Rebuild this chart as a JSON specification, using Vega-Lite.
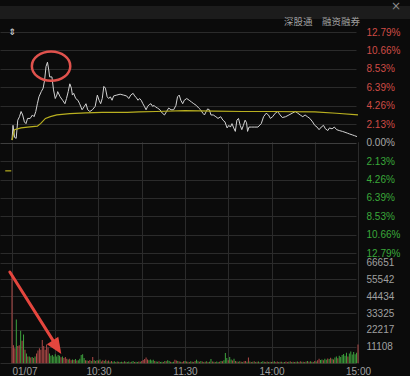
{
"$schema": "https://vega.github.io/schema/vega-lite/v6.json",
"background": "#0b0b0b",
"padding": 0,
"spacing": 13,
"bounds": "flush",
"config": {"view": {"stroke": null}, "font": "Liberation Sans"},
"vconcat": [
{
"width": 410, "height": 13,
"view": {"fill": "#1c1c1c", "stroke": null},
"data": {"values": [{"s": "×"}]},
"mark": {"type": "text", "align": "center", "baseline": "middle", "dx": -14, "fontSize": 12, "color": "#8a8a8a", "font": "DejaVu Sans"},
"encoding": {"text": {"field": "s"}, "x": {"value": "width"}, "y": {"value": {"expr": "height/2"}}}
},
{
"width": 363, "height": 331,
"title": {"text": "深股通　融资融券", "anchor": "end", "frame": "group", "orient": "top", "font": "Noto Sans CJK SC", "fontSize": 9.5, "fontWeight": "normal", "color": "#a0a0a0", "offset": 1, "dx": -3},
"resolve": {"scale": {"y": "independent"}},
"layer": [
{"data": {"values": [
{"t":0,"p":0.3},{"t":0.7,"p":2.0},{"t":1.8,"p":0.6},{"t":2.9,"p":0.5},{"t":4.0,"p":2.6},{"t":5.2,"p":3.0},{"t":6.3,"p":3.6},{"t":7.4,"p":3.2},{"t":8.6,"p":2.4},{"t":9.7,"p":2.2},
{"t":10.8,"p":2.8},{"t":12.6,"p":2.8},{"t":14.2,"p":3.2},{"t":15.3,"p":3.0},{"t":16.5,"p":3.6},{"t":17.6,"p":4.5},{"t":18.7,"p":5.3},{"t":20.3,"p":5.9},{"t":21.6,"p":6.3},{"t":22.6,"p":7.2},
{"t":23.6,"p":8.8},{"t":24.6,"p":9.3},{"t":25.5,"p":8.4},{"t":26.1,"p":7.6},{"t":27.7,"p":7.6},{"t":28.8,"p":6.1},{"t":30.0,"p":5.1},{"t":31.1,"p":5.5},{"t":31.7,"p":5.9},{"t":33.4,"p":5.3},
{"t":35.1,"p":4.9},{"t":36.7,"p":4.5},{"t":37.8,"p":5.1},{"t":39.0,"p":5.9},{"t":40.1,"p":6.8},{"t":41.2,"p":6.3},{"t":41.9,"p":5.5},{"t":42.8,"p":5.7},{"t":44.2,"p":5.1},{"t":45.7,"p":4.9},
{"t":46.9,"p":4.5},{"t":48.6,"p":3.8},{"t":50.2,"p":4.2},{"t":51.3,"p":4.5},{"t":52.5,"p":3.8},{"t":54.0,"p":3.6},{"t":55.8,"p":3.8},{"t":57.7,"p":4.2},{"t":59.2,"p":5.5},{"t":60.4,"p":4.9},
{"t":61.5,"p":4.5},{"t":62.6,"p":5.1},{"t":63.7,"p":6.5},{"t":64.8,"p":6.3},{"t":66.0,"p":5.3},{"t":67.1,"p":5.1},{"t":68.2,"p":5.3},{"t":69.4,"p":4.9},{"t":70.5,"p":5.4},{"t":72.7,"p":5.5},
{"t":75.0,"p":5.6},{"t":77.3,"p":5.5},{"t":79.5,"p":5.4},{"t":81.0,"p":5.1},{"t":82.4,"p":5.5},{"t":84.0,"p":5.7},{"t":85.1,"p":5.4},{"t":86.2,"p":5.2},{"t":87.4,"p":4.9},{"t":88.5,"p":5.1},
{"t":89.6,"p":4.9},{"t":90.8,"p":4.5},{"t":91.8,"p":4.2},{"t":93.0,"p":3.8},{"t":94.1,"p":4.2},{"t":95.2,"p":4.4},{"t":96.4,"p":4.5},{"t":97.5,"p":4.2},{"t":98.6,"p":4.3},{"t":99.7,"p":4.1},
{"t":100.9,"p":4.0},{"t":102.6,"p":3.8},{"t":104.3,"p":3.4},{"t":105.8,"p":3.2},{"t":107.2,"p":3.6},{"t":108.7,"p":4.0},{"t":110.3,"p":3.8},{"t":112.1,"p":3.8},{"t":113.7,"p":4.3},{"t":114.8,"p":5.3},
{"t":116.0,"p":5.5},{"t":117.1,"p":4.9},{"t":118.4,"p":4.5},{"t":119.5,"p":4.9},{"t":121.2,"p":5.1},{"t":122.9,"p":4.9},{"t":124.5,"p":4.7},{"t":126.1,"p":4.5},{"t":127.9,"p":4.3},{"t":129.5,"p":4.0},
{"t":130.8,"p":3.8},{"t":132.4,"p":3.4},{"t":133.5,"p":3.2},{"t":134.7,"p":3.6},{"t":135.7,"p":3.9},{"t":136.9,"p":3.8},{"t":138.0,"p":3.2},{"t":139.6,"p":3.2},{"t":141.4,"p":3.0},{"t":142.9,"p":2.8},
{"t":144.8,"p":3.0},{"t":146.3,"p":2.6},{"t":147.7,"p":2.4},{"t":149.2,"p":1.7},{"t":150.4,"p":2.0},{"t":151.5,"p":1.8},{"t":152.6,"p":2.2},{"t":153.8,"p":1.7},{"t":154.9,"p":1.3},{"t":156.0,"p":2.6},
{"t":157.1,"p":2.8},{"t":158.3,"p":2.0},{"t":159.4,"p":1.5},{"t":160.5,"p":2.0},{"t":161.7,"p":2.6},{"t":162.7,"p":2.3},{"t":163.4,"p":1.3},{"t":164.4,"p":1.8},{"t":166.1,"p":1.8},{"t":168.4,"p":1.8},
{"t":170.6,"p":1.8},{"t":172.9,"p":2.2},{"t":174.5,"p":3.0},{"t":176.3,"p":3.4},{"t":177.9,"p":3.2},{"t":179.2,"p":2.8},{"t":180.8,"p":3.0},{"t":182.6,"p":3.4},{"t":184.2,"p":3.6},{"t":186.0,"p":3.2},
{"t":187.5,"p":2.9},{"t":189.8,"p":3.0},{"t":192.1,"p":3.2},{"t":194.3,"p":3.4},{"t":196.5,"p":3.6},{"t":198.3,"p":3.4},{"t":199.9,"p":3.2},{"t":201.7,"p":3.0},{"t":203.3,"p":3.2},{"t":204.9,"p":3.0},
{"t":206.6,"p":2.8},{"t":208.5,"p":2.4},{"t":210.0,"p":2.0},{"t":211.6,"p":1.8},{"t":213.0,"p":1.5},{"t":214.5,"p":1.8},{"t":216.1,"p":2.0},{"t":217.4,"p":1.6},{"t":219.1,"p":1.4},{"t":220.2,"p":1.7},
{"t":222.0,"p":1.6},{"t":223.6,"p":1.8},{"t":225.2,"p":1.5},{"t":227.0,"p":1.4},{"t":229.2,"p":1.3},{"t":231.0,"p":1.2},{"t":232.6,"p":1.1},{"t":234.2,"p":1.0},{"t":236.0,"p":0.9},{"t":237.7,"p":0.8},
{"t":239.3,"p":0.7}
]},
"mark": {"type": "line", "color": "#d2d2d2", "strokeWidth": 1},
"encoding": {
"x": {"field": "t", "type": "quantitative", "scale": {"domain": [0, 240], "range": [7, 363], "nice": false, "zero": false},
"axis": {"orient": "bottom", "values": [0,30,60,90,120,150,180,210,240],
"labelExpr": "datum.value == 0 ? '01/07' : datum.value == 60 ? '10:30' : datum.value == 120 ? '11:30' : datum.value == 180 ? '14:00' : datum.value == 240 ? '15:00' : ''",
"labelAlign": {"condition": {"test": "datum.value == 0", "value": "left"}, "value": "center"},
"labelColor": "#a0a0a0", "labelFontSize": 10, "labelPadding": 3, "ticks": false, "domain": false,
"grid": true, "gridColor": "#2b2b2b", "title": null, "labelOverlap": false, "labelBound": false, "labelFlush": false}},
"y": {"field": "p", "type": "quantitative", "scale": {"domain": [-12.79, 12.79], "range": [221.3, 0], "nice": false, "zero": false},
"axis": {"orient": "right", "values": [-12.79,-10.66,-8.53,-6.39,-4.26,-2.13,0,2.13,4.26,6.39,8.53,10.66,12.79],
"labelExpr": "format(abs(datum.value), '.2f') + '%'",
"labelColor": {"condition": [{"test": "datum.value > 0", "value": "#cf4b46"}, {"test": "datum.value < 0", "value": "#3aa83a"}], "value": "#a8a8a8"},
"gridColor": {"condition": {"test": "datum.value == 0", "value": "#3e3e3e"}, "value": "#2b2b2b"},
"labelFontSize": 10, "labelPadding": 3, "ticks": false, "domain": false, "grid": true, "title": null,
"labelOverlap": false, "labelBound": false, "labelFlush": false, "labelBaseline": "middle"}}
}},
{"data": {"values": [
{"t":0,"p":0.3},{"t":1.8,"p":1.5},{"t":6.3,"p":1.7},{"t":10.8,"p":1.8},{"t":17.6,"p":1.9},{"t":19.8,"p":2.2},{"t":23.2,"p":2.8},{"t":26.6,"p":3.0},{"t":31.1,"p":3.2},{"t":40.1,"p":3.35},
{"t":51.3,"p":3.45},{"t":62.6,"p":3.5},{"t":80,"p":3.5},{"t":88,"p":3.55},{"t":100,"p":3.6},{"t":120,"p":3.7},{"t":140,"p":3.65},{"t":160,"p":3.6},{"t":180,"p":3.6},{"t":210,"p":3.55},
{"t":225,"p":3.4},{"t":240,"p":3.2}
]},
"mark": {"type": "line", "color": "#b9b020", "strokeWidth": 1.2},
"encoding": {"x": {"field": "t", "type": "quantitative"},
"y": {"field": "p", "type": "quantitative", "axis": null, "scale": {"domain": [-12.79, 12.79], "range": [221.3, 0], "nice": false, "zero": false}}}},
{"data": {"values": [{"t": -4.7, "p": -3.26}, {"t": -0.5, "p": -3.26}]},
"mark": {"type": "line", "color": "#b9b020", "strokeWidth": 1.2},
"encoding": {"x": {"field": "t", "type": "quantitative"},
"y": {"field": "p", "type": "quantitative", "axis": null, "scale": {"domain": [-12.79, 12.79], "range": [221.3, 0], "nice": false, "zero": false}}}},
{"data": {"values": [{"t": 27.1, "p": 8.84}]},
"mark": {"type": "point", "shape": "M -1 0 A 1 0.76 0 1 1 1 0 A 1 0.76 0 1 1 -1 0 Z", "size": 1475, "filled": false, "color": "#e0524d", "strokeWidth": 2.5, "opacity": 1},
"encoding": {"x": {"field": "t", "type": "quantitative"},
"y": {"field": "p", "type": "quantitative", "axis": null, "scale": {"domain": [-12.79, 12.79], "range": [221.3, 0], "nice": false, "zero": false}}}},
{"data": {"values": [{"t": 0, "p": 12.79, "s": "⇕"}]},
"mark": {"type": "text", "color": "#e0e0e0", "fontSize": 9, "baseline": "middle", "align": "center", "font": "DejaVu Sans"},
"encoding": {"x": {"field": "t", "type": "quantitative"},
"y": {"field": "p", "type": "quantitative", "axis": null, "scale": {"domain": [-12.79, 12.79], "range": [221.3, 0], "nice": false, "zero": false}},
"text": {"field": "s"}}},
{"data": {"values": [
{"t":0,"v":59000,"d":"u"},{"t":1,"v":12000,"d":"u"},{"t":2,"v":10000,"d":"u"},{"t":3,"v":29000,"d":"g"},{"t":4,"v":11500,"d":"u"},{"t":5,"v":12000,"d":"u"},{"t":6,"v":21500,"d":"g"},{"t":7,"v":15000,"d":"u"},{"t":8,"v":19000,"d":"g"},{"t":9,"v":9000,"d":"u"},
{"t":10,"v":6500,"d":"g"},{"t":11,"v":4500,"d":"u"},{"t":12,"v":4500,"d":"g"},{"t":13,"v":3800,"d":"u"},{"t":14,"v":4200,"d":"g"},{"t":15,"v":3500,"d":"u"},{"t":16,"v":4500,"d":"g"},{"t":17,"v":6500,"d":"u"},{"t":18,"v":8500,"d":"u"},{"t":19,"v":10000,"d":"u"},
{"t":20,"v":9000,"d":"u"},{"t":21,"v":15500,"d":"u"},{"t":22,"v":11500,"d":"u"},{"t":23,"v":9000,"d":"u"},{"t":24,"v":12500,"d":"u"},{"t":25,"v":10500,"d":"u"},{"t":26,"v":6500,"d":"g"},{"t":27,"v":5000,"d":"g"},{"t":28,"v":5500,"d":"g"},{"t":29,"v":4500,"d":"g"},
{"t":30,"v":6000,"d":"g"},{"t":31,"v":4500,"d":"g"},{"t":32,"v":5500,"d":"g"},{"t":33,"v":5000,"d":"g"},{"t":34,"v":4000,"d":"u"},{"t":35,"v":4500,"d":"g"},{"t":36,"v":3500,"d":"u"},{"t":37,"v":4200,"d":"u"},{"t":38,"v":3000,"d":"u"},{"t":39,"v":2500,"d":"g"},
{"t":40,"v":3000,"d":"u"},{"t":41,"v":2000,"d":"u"},{"t":42,"v":2500,"d":"g"},{"t":43,"v":2200,"d":"u"},{"t":44,"v":2800,"d":"g"},{"t":45,"v":1800,"d":"u"},{"t":46,"v":2000,"d":"g"},{"t":47,"v":3000,"d":"g"},{"t":48,"v":5500,"d":"g"},{"t":49,"v":6000,"d":"g"},
{"t":50,"v":3500,"d":"g"},{"t":51,"v":2000,"d":"u"},{"t":52,"v":1800,"d":"g"},{"t":53,"v":1500,"d":"u"},{"t":54,"v":2200,"d":"u"},{"t":55,"v":1500,"d":"g"},{"t":56,"v":4200,"d":"u"},{"t":57,"v":2000,"d":"g"},{"t":58,"v":1500,"d":"u"},{"t":59,"v":2000,"d":"g"},
{"t":60,"v":1800,"d":"u"},{"t":61,"v":2500,"d":"g"},{"t":62,"v":1200,"d":"u"},{"t":63,"v":2000,"d":"u"},{"t":64,"v":1600,"d":"g"},{"t":65,"v":2400,"d":"u"},{"t":66,"v":1300,"d":"g"},{"t":67,"v":1800,"d":"u"},{"t":68,"v":1100,"d":"g"},{"t":69,"v":1500,"d":"u"},
{"t":70,"v":1000,"d":"g"},{"t":71,"v":1400,"d":"g"},{"t":72,"v":900,"d":"u"},{"t":73,"v":1200,"d":"g"},{"t":74,"v":1000,"d":"u"},{"t":75,"v":800,"d":"g"},{"t":76,"v":1100,"d":"g"},{"t":77,"v":900,"d":"u"},{"t":78,"v":1300,"d":"g"},{"t":79,"v":1000,"d":"u"},
{"t":80,"v":800,"d":"g"},{"t":81,"v":1200,"d":"g"},{"t":82,"v":700,"d":"u"},{"t":83,"v":1000,"d":"g"},{"t":84,"v":1500,"d":"g"},{"t":85,"v":900,"d":"u"},{"t":86,"v":1100,"d":"g"},{"t":87,"v":800,"d":"g"},{"t":88,"v":1200,"d":"u"},{"t":89,"v":1000,"d":"g"},
{"t":90,"v":1500,"d":"u"},{"t":91,"v":2200,"d":"u"},{"t":92,"v":2800,"d":"u"},{"t":93,"v":3800,"d":"u"},{"t":94,"v":2500,"d":"u"},{"t":95,"v":2000,"d":"g"},{"t":96,"v":2600,"d":"g"},{"t":97,"v":1800,"d":"g"},{"t":98,"v":2400,"d":"g"},{"t":99,"v":1500,"d":"u"},
{"t":100,"v":1200,"d":"g"},{"t":101,"v":1000,"d":"g"},{"t":102,"v":1400,"d":"u"},{"t":103,"v":900,"d":"g"},{"t":104,"v":1100,"d":"g"},{"t":105,"v":800,"d":"u"},{"t":106,"v":1600,"d":"g"},{"t":107,"v":1300,"d":"u"},{"t":108,"v":2000,"d":"g"},{"t":109,"v":1500,"d":"g"},
{"t":110,"v":1000,"d":"u"},{"t":111,"v":800,"d":"g"},{"t":112,"v":1100,"d":"g"},{"t":113,"v":2400,"d":"u"},{"t":114,"v":1800,"d":"u"},{"t":115,"v":1500,"d":"g"},{"t":116,"v":1200,"d":"u"},{"t":117,"v":1000,"d":"g"},{"t":118,"v":800,"d":"u"},{"t":119,"v":1400,"d":"u"},
{"t":120,"v":1600,"d":"g"},{"t":121,"v":1200,"d":"u"},{"t":122,"v":1000,"d":"g"},{"t":123,"v":900,"d":"u"},{"t":124,"v":1400,"d":"g"},{"t":125,"v":1100,"d":"u"},{"t":126,"v":800,"d":"g"},{"t":127,"v":1600,"d":"u"},{"t":128,"v":2400,"d":"g"},{"t":129,"v":1300,"d":"g"},
{"t":130,"v":1000,"d":"u"},{"t":131,"v":1500,"d":"g"},{"t":132,"v":1200,"d":"u"},{"t":133,"v":900,"d":"g"},{"t":134,"v":1100,"d":"u"},{"t":135,"v":1300,"d":"g"},{"t":136,"v":800,"d":"u"},{"t":137,"v":1000,"d":"g"},{"t":138,"v":2800,"d":"g"},{"t":139,"v":1200,"d":"u"},
{"t":140,"v":1000,"d":"g"},{"t":141,"v":900,"d":"u"},{"t":142,"v":1200,"d":"g"},{"t":143,"v":800,"d":"g"},{"t":144,"v":1100,"d":"u"},{"t":145,"v":1600,"d":"g"},{"t":146,"v":1300,"d":"u"},{"t":147,"v":2000,"d":"g"},{"t":148,"v":6800,"d":"g"},{"t":149,"v":3500,"d":"g"},
{"t":150,"v":2000,"d":"u"},{"t":151,"v":4200,"d":"g"},{"t":152,"v":2600,"d":"g"},{"t":153,"v":1800,"d":"u"},{"t":154,"v":3000,"d":"g"},{"t":155,"v":1500,"d":"u"},{"t":156,"v":1200,"d":"g"},{"t":157,"v":1000,"d":"u"},{"t":158,"v":1400,"d":"g"},{"t":159,"v":1100,"d":"u"},
{"t":160,"v":900,"d":"g"},{"t":161,"v":1300,"d":"u"},{"t":162,"v":1600,"d":"u"},{"t":163,"v":1000,"d":"g"},{"t":164,"v":3800,"d":"u"},{"t":165,"v":1200,"d":"g"},{"t":166,"v":900,"d":"u"},{"t":167,"v":1100,"d":"g"},{"t":168,"v":1300,"d":"u"},{"t":169,"v":800,"d":"g"},
{"t":170,"v":1000,"d":"u"},{"t":171,"v":1200,"d":"g"},{"t":172,"v":700,"d":"u"},{"t":173,"v":900,"d":"g"},{"t":174,"v":1300,"d":"g"},{"t":175,"v":1000,"d":"u"},{"t":176,"v":800,"d":"g"},{"t":177,"v":1200,"d":"u"},{"t":178,"v":900,"d":"g"},{"t":179,"v":1100,"d":"u"},
{"t":180,"v":800,"d":"g"},{"t":181,"v":1000,"d":"u"},{"t":182,"v":1400,"d":"g"},{"t":183,"v":900,"d":"u"},{"t":184,"v":1200,"d":"u"},{"t":185,"v":800,"d":"g"},{"t":186,"v":1000,"d":"u"},{"t":187,"v":1100,"d":"g"},{"t":188,"v":700,"d":"u"},{"t":189,"v":900,"d":"g"},
{"t":190,"v":1200,"d":"u"},{"t":191,"v":800,"d":"u"},{"t":192,"v":1000,"d":"g"},{"t":193,"v":1300,"d":"u"},{"t":194,"v":900,"d":"g"},{"t":195,"v":1100,"d":"u"},{"t":196,"v":800,"d":"g"},{"t":197,"v":1000,"d":"u"},{"t":198,"v":1200,"d":"g"},{"t":199,"v":900,"d":"u"},
{"t":200,"v":1400,"d":"u"},{"t":201,"v":1000,"d":"g"},{"t":202,"v":1100,"d":"u"},{"t":203,"v":800,"d":"g"},{"t":204,"v":1200,"d":"u"},{"t":205,"v":1500,"d":"g"},{"t":206,"v":1000,"d":"u"},{"t":207,"v":1300,"d":"g"},{"t":208,"v":1100,"d":"u"},{"t":209,"v":900,"d":"g"},
{"t":210,"v":1600,"d":"u"},{"t":211,"v":1200,"d":"g"},{"t":212,"v":2000,"d":"u"},{"t":213,"v":3000,"d":"u"},{"t":214,"v":2200,"d":"g"},{"t":215,"v":2600,"d":"g"},{"t":216,"v":2000,"d":"u"},{"t":217,"v":3000,"d":"g"},{"t":218,"v":2400,"d":"g"},{"t":219,"v":3200,"d":"u"},
{"t":220,"v":2800,"d":"g"},{"t":221,"v":3600,"d":"u"},{"t":222,"v":3000,"d":"g"},{"t":223,"v":2600,"d":"u"},{"t":224,"v":3800,"d":"g"},{"t":225,"v":4500,"d":"g"},{"t":226,"v":3400,"d":"u"},{"t":227,"v":5000,"d":"g"},{"t":228,"v":4200,"d":"g"},{"t":229,"v":5500,"d":"g"},
{"t":230,"v":6200,"d":"g"},{"t":231,"v":5000,"d":"g"},{"t":232,"v":7000,"d":"g"},{"t":233,"v":4500,"d":"u"},{"t":234,"v":6500,"d":"g"},{"t":235,"v":7800,"d":"g"},{"t":236,"v":5800,"d":"g"},{"t":237,"v":7500,"d":"g"},{"t":238,"v":6000,"d":"g"},{"t":239,"v":7000,"d":"g"},
{"t":240,"v":12500,"d":"u"}
]},
"mark": {"type": "bar", "size": 1, "orient": "vertical"},
"encoding": {
"x": {"field": "t", "type": "quantitative"},
"y": {"field": "v", "type": "quantitative", "scale": {"domain": [0, 66651], "range": [331.3, 230.7], "nice": false, "zero": true},
"axis": {"orient": "right", "values": [0, 11108, 22217, 33325, 44434, 55542, 66651],
"labelExpr": "datum.value == 0 ? '' : format(datum.value, 'd')",
"labelColor": "#a0a0a0", "labelFontSize": 10, "labelPadding": 3, "ticks": false, "domain": false, "grid": true, "gridColor": "#2b2b2b", "title": null,
"labelOverlap": false, "labelBound": false, "labelFlush": false, "labelBaseline": "middle"}},
"color": {"field": "d", "type": "nominal", "scale": {"domain": ["u", "g"], "range": ["#b04a48", "#3ea23e"]}, "legend": null}
}},
{"data": {"values": [{"t": -1.5, "v": 60500, "t2": 29.5, "v2": 13500}]},
"mark": {"type": "rule", "color": "#e5463e", "strokeWidth": 3, "strokeCap": "round"},
"encoding": {"x": {"field": "t", "type": "quantitative"},
"y": {"field": "v", "type": "quantitative", "axis": null, "scale": {"domain": [0, 66651], "range": [331.3, 230.7], "nice": false, "zero": true}},
"x2": {"field": "t2"}, "y2": {"field": "v2"}}},
{"data": {"values": [{"t": 34.2, "v": 6200}]},
"mark": {"type": "point", "shape": "M 0 0 L -2 -0.85 L -2 0.85 Z", "size": 256, "angle": 57, "filled": true, "color": "#e5463e", "opacity": 1},
"encoding": {"x": {"field": "t", "type": "quantitative"},
"y": {"field": "v", "type": "quantitative", "axis": null, "scale": {"domain": [0, 66651], "range": [331.3, 230.7], "nice": false, "zero": true}}}}
]
}
]
}
